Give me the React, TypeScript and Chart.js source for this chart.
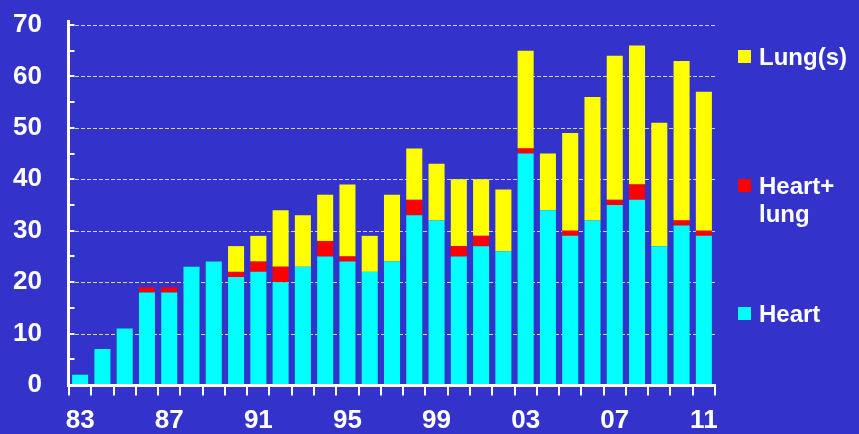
import React, { useEffect, useRef } from "react";
import { Chart, registerables } from "chart.js";

Chart.register(...registerables);

const categories = ["83","84","85","86","87","88","89","90","91","92","93","94","95","96","97","98","99","00","01","02","03","04","05","06","07","08","09","10","11"];
const heart = [2,7,11,18,18,23,24,21,22,20,23,25,24,22,24,33,32,25,27,26,45,34,29,32,35,36,27,31,29];
const heartLung = [0,0,0,1,1,0,0,1,2,3,0,3,1,0,0,3,0,2,2,0,1,0,1,0,1,3,0,1,1];
const lungs = [0,0,0,0,0,0,0,5,5,11,10,9,14,7,13,10,11,13,11,12,19,11,19,24,28,27,24,31,27];
const yTicks = [0,10,20,30,40,50,60,70];

const BG = "#3333cc";
const FONT = "'Liberation Sans', Arial, sans-serif";

const axesPlugin = {
  id: "customAxes",
  beforeDatasetsDraw(chart: any) {
    const { ctx, chartArea, scales } = chart;
    const y = scales.y;
    ctx.save();
    ctx.strokeStyle = "rgba(235,235,255,0.85)";
    ctx.lineWidth = 1;
    ctx.setLineDash([4, 2]);
    for (const v of yTicks) {
      if (v === 0) continue;
      const py = Math.round(y.getPixelForValue(v)) + 0.5;
      ctx.beginPath();
      ctx.moveTo(chartArea.left + 6, py);
      ctx.lineTo(chartArea.right, py);
      ctx.stroke();
    }
    ctx.restore();
  },
  afterDatasetsDraw(chart: any) {
    const { ctx, chartArea, scales } = chart;
    const y = scales.y;
    const x = scales.x;
    ctx.save();
    ctx.strokeStyle = "#ffffff";
    ctx.setLineDash([]);
    ctx.lineWidth = 3;
    const ax = chartArea.left - 0.5;
    ctx.beginPath();
    ctx.moveTo(ax, y.getPixelForValue(70) - 5);
    ctx.lineTo(ax, chartArea.bottom + 1);
    ctx.stroke();
    ctx.lineWidth = 2;
    for (let v = 5; v <= 70; v += 5) {
      const py = Math.round(y.getPixelForValue(v));
      ctx.beginPath();
      ctx.moveTo(ax, py);
      ctx.lineTo(ax + 6, py);
      ctx.stroke();
    }
    ctx.lineWidth = 3;
    const ay = chartArea.bottom + 0.5;
    ctx.beginPath();
    ctx.moveTo(ax - 1.5, ay);
    ctx.lineTo(chartArea.right + 1, ay);
    ctx.stroke();
    ctx.lineWidth = 2;
    const n = categories.length;
    const step = x.getPixelForValue(1) - x.getPixelForValue(0);
    for (let i = 0; i <= n; i++) {
      const px = i < n ? x.getPixelForValue(i) - step / 2 : x.getPixelForValue(n - 1) + step / 2;
      const rx = Math.round(px);
      ctx.beginPath();
      ctx.moveTo(rx, ay);
      ctx.lineTo(rx, ay + 10);
      ctx.stroke();
    }
    ctx.restore();
  },
};

export default function App() {
  const ref = useRef<HTMLCanvasElement | null>(null);

  useEffect(() => {
    if (!ref.current) return;
    const chart = new Chart(ref.current, {
      type: "bar",
      data: {
        labels: categories,
        datasets: [
          { label: "Heart", data: heart, backgroundColor: "#00ffff", borderWidth: 0 },
          { label: "Heart+lung", data: heartLung, backgroundColor: "#ff0000", borderWidth: 0 },
          { label: "Lung(s)", data: lungs, backgroundColor: "#ffff00", borderWidth: 0 },
        ],
      },
      options: {
        responsive: false,
        animation: false,
        events: [],
        layout: { padding: { left: 0, right: 144, top: 25, bottom: 0 } },
        datasets: { bar: { barPercentage: 0.72, categoryPercentage: 1 } },
        plugins: { legend: { display: false }, tooltip: { enabled: false } },
        scales: {
          x: {
            stacked: true,
            grid: { display: false, drawTicks: false },
            border: { display: false },
            afterFit: (s: any) => { s.height = 49; s.paddingLeft = 0; s.paddingRight = 0; },
            ticks: {
              color: "#ffffff",
              font: { family: FONT, size: 26, weight: "bold" },
              autoSkip: false,
              maxRotation: 0,
              padding: 20,
              callback: (_v: any, i: number) => (i % 4 === 0 ? categories[i] : ""),
            },
          },
          y: {
            stacked: true,
            min: 0,
            max: 70,
            grid: { display: false, drawTicks: false },
            border: { display: false },
            afterFit: (s: any) => { s.width = 69; s.paddingTop = 0; s.paddingBottom = 0; },
            afterBuildTicks: (s: any) => { s.ticks = yTicks.map((v) => ({ value: v })); },
            ticks: {
              color: "#ffffff",
              font: { family: FONT, size: 26, weight: "bold" },
              padding: 27,
            },
          },
        },
      },
      plugins: [axesPlugin],
    });
    return () => chart.destroy();
  }, []);

  const textStyle: React.CSSProperties = {
    position: "absolute",
    left: 759,
    color: "#ffffff",
    fontFamily: FONT,
    fontWeight: "bold",
    fontSize: 24,
    lineHeight: "28px",
    whiteSpace: "nowrap",
  };
  const sq = (top: number, color: string): React.CSSProperties => ({
    position: "absolute",
    left: 738,
    top,
    width: 13,
    height: 13,
    background: color,
  });

  return (
    <div style={{ position: "fixed", left: 0, top: 0, width: 859, height: 434, background: BG, overflow: "hidden" }}>
      <canvas ref={ref} width={859} height={434} style={{ display: "block" }} />
      <div style={sq(50, "#ffff00")} />
      <div style={{ ...textStyle, top: 43 }}>Lung(s)</div>
      <div style={sq(179, "#ff0000")} />
      <div style={{ ...textStyle, top: 172 }}>Heart+<br />lung</div>
      <div style={sq(307, "#00ffff")} />
      <div style={{ ...textStyle, top: 300 }}>Heart</div>
    </div>
  );
}
